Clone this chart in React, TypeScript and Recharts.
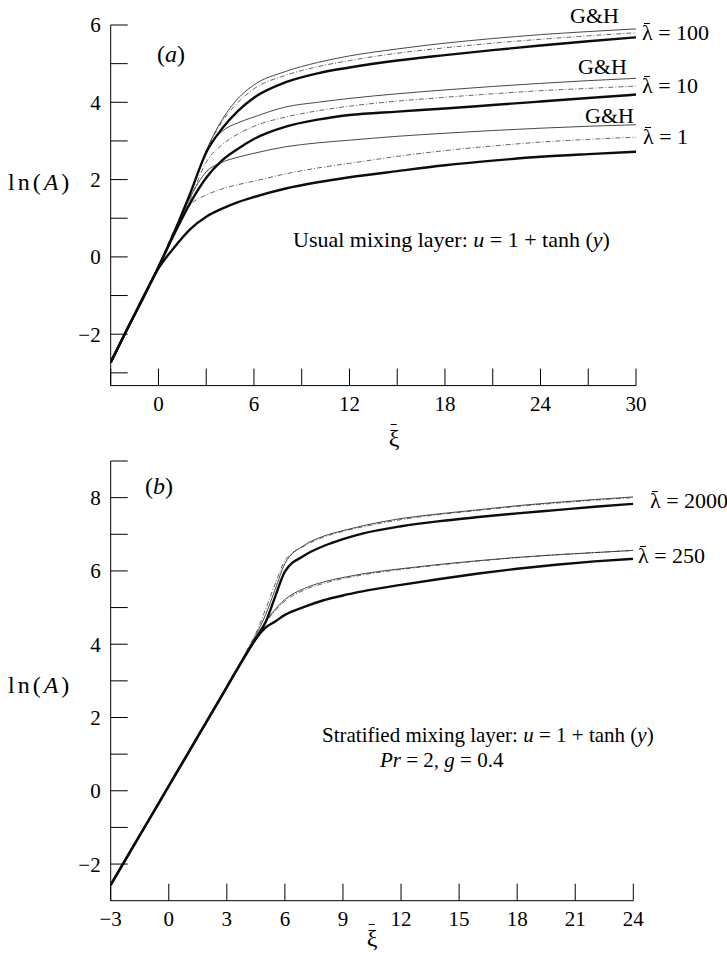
import React from "react";
import { LineChart, Line, XAxis, YAxis } from "recharts";

// ---- panel (a): usual mixing layer ----
const xiA = [-3, -2, -1, 0, 1, 2, 3, 4, 5, 6, 8, 10, 12, 15, 18, 21, 24, 27, 30];
const thickA100 = [-2.73, -1.9, -1.08, -0.26, 0.65, 1.65, 2.7, 3.32, 3.78, 4.12, 4.52, 4.75, 4.9, 5.08, 5.22, 5.35, 5.47, 5.58, 5.68];
const ghA100 = [-2.73, -1.9, -1.08, -0.26, 0.65, 1.65, 2.75, 3.55, 4.1, 4.45, 4.8, 5.03, 5.2, 5.38, 5.53, 5.65, 5.75, 5.83, 5.9];
const dotA100 = [-2.73, -1.9, -1.08, -0.26, 0.65, 1.65, 2.73, 3.5, 4.0, 4.35, 4.7, 4.92, 5.08, 5.27, 5.41, 5.53, 5.63, 5.72, 5.8];
const thickA10 = [-2.73, -1.9, -1.08, -0.26, 0.6, 1.4, 2.05, 2.5, 2.8, 3.05, 3.37, 3.55, 3.67, 3.76, 3.84, 3.93, 4.02, 4.11, 4.2];
const ghA10 = [-2.73, -1.9, -1.08, -0.26, 0.62, 1.62, 2.72, 3.25, 3.47, 3.62, 3.88, 4.0, 4.1, 4.22, 4.32, 4.41, 4.49, 4.56, 4.62];
const dotA10 = [-2.73, -1.9, -1.08, -0.26, 0.6, 1.5, 2.45, 2.9, 3.18, 3.38, 3.62, 3.78, 3.9, 4.03, 4.13, 4.22, 4.3, 4.36, 4.42];
const thickA1 = [-2.73, -1.9, -1.1, -0.3, 0.25, 0.72, 1.04, 1.25, 1.42, 1.55, 1.77, 1.93, 2.06, 2.22, 2.37, 2.49, 2.59, 2.66, 2.72];
const ghA1 = [-2.73, -1.9, -1.08, -0.26, 0.62, 1.55, 2.2, 2.45, 2.58, 2.68, 2.85, 2.95, 3.02, 3.12, 3.2, 3.27, 3.33, 3.38, 3.42];
const dotA1 = [-2.73, -1.9, -1.08, -0.26, 0.7, 1.35, 1.6, 1.76, 1.87, 1.96, 2.15, 2.3, 2.42, 2.6, 2.75, 2.87, 2.97, 3.04, 3.1];

const xTicksA = [-3, 0, 3, 6, 9, 12, 15, 18, 21, 24, 27, 30];
const xLabelsA = [0, 6, 12, 18, 24, 30];
const yTicksA = [-3, -2, -1, 0, 1, 2, 3, 4, 5, 6];
const yLabelsA = [-2, 0, 2, 4, 6];

// ---- panel (b): stratified mixing layer ----
const xiB = [-3, -2, -1, 0, 1, 2, 3, 4, 4.5, 5, 5.5, 6, 7, 8, 9, 10, 12, 14, 16, 18, 20, 22, 24];
const thickB2000 = [-2.57, -1.67, -0.77, 0.13, 1.03, 1.93, 2.83, 3.73, 4.15, 4.6, 5.3, 5.98, 6.42, 6.68, 6.87, 7.02, 7.22, 7.36, 7.47, 7.57, 7.66, 7.75, 7.83];
const ghB2000 = [-2.57, -1.67, -0.77, 0.13, 1.03, 1.93, 2.83, 3.78, 4.25, 4.8, 5.5, 6.2, 6.7, 6.95, 7.1, 7.23, 7.43, 7.56, 7.67, 7.78, 7.87, 7.95, 8.02];
const dotB2000 = [-2.57, -1.67, -0.77, 0.13, 1.03, 1.93, 2.85, 3.8, 4.3, 4.95, 5.65, 6.28, 6.68, 6.92, 7.08, 7.2, 7.4, 7.54, 7.65, 7.76, 7.85, 7.93, 8.0];
const thickB250 = [-2.57, -1.67, -0.77, 0.13, 1.03, 1.93, 2.83, 3.73, 4.15, 4.45, 4.62, 4.8, 5.02, 5.2, 5.33, 5.44, 5.62, 5.78, 5.93, 6.06, 6.17, 6.26, 6.33];
const ghB250 = [-2.57, -1.67, -0.77, 0.13, 1.03, 1.93, 2.83, 3.75, 4.2, 4.62, 4.95, 5.22, 5.52, 5.7, 5.82, 5.92, 6.06, 6.18, 6.28, 6.37, 6.44, 6.5, 6.56];
const dotB250 = [-2.57, -1.67, -0.77, 0.13, 1.03, 1.93, 2.83, 3.75, 4.18, 4.58, 4.92, 5.18, 5.48, 5.66, 5.79, 5.89, 6.04, 6.16, 6.27, 6.36, 6.44, 6.5, 6.56];

const xTicksB = [-3, 0, 3, 6, 9, 12, 15, 18, 21, 24];
const xLabelsB = [-3, 0, 3, 6, 9, 12, 15, 18, 21, 24];
const yTicksB = [-2, -1, 0, 1, 2, 3, 4, 5, 6, 7, 8, 9];
const yLabelsB = [-2, 0, 2, 4, 6, 8];

const dataA = xiA.map((xi, i) => ({
  xi,
  t100: thickA100[i], g100: ghA100[i], d100: dotA100[i],
  t10: thickA10[i], g10: ghA10[i], d10: dotA10[i],
  t1: thickA1[i], g1: ghA1[i], d1: dotA1[i],
}));

const dataB = xiB.map((xi, i) => ({
  xi,
  t2000: thickB2000[i], g2000: ghB2000[i], d2000: dotB2000[i],
  t250: thickB250[i], g250: ghB250[i], d250: dotB250[i],
}));

const serif = '"Liberation Serif", "DejaVu Serif", serif';
const tickStyle = { fontSize: 21, fontFamily: serif, fill: "#000" };
const minus = (v: number) => (v < 0 ? "\u2212" + Math.abs(v) : String(v));
const fmt = (labels: number[]) => (v: number) => (labels.includes(v) ? minus(v) : "");

const thick = { stroke: "#0d0d0d", strokeWidth: 2.4 };
const thin = { stroke: "#333", strokeWidth: 0.9 };
const dotted = { stroke: "#555", strokeWidth: 0.9, strokeDasharray: "5 2 1 2" };

function Txt({ x, y, size = 22, center = false, spacing = 0, children }: any) {
  return (
    <div style={{
      position: "absolute", left: x, top: y, whiteSpace: "nowrap", lineHeight: 1,
      fontSize: size, fontFamily: serif, color: "#000", letterSpacing: spacing,
      transform: center ? "translate(-50%, -50%)" : "translateY(-50%)",
    }}>{children}</div>
  );
}

// letter with a short bar above it
function Barred({ ch, top = "0.06em" }: { ch: string; top?: string }) {
  return (
    <span style={{ display: "inline-block", position: "relative" }}>
      {ch}
      <span style={{ position: "absolute", left: "0.1em", right: "0.1em", top,
                     borderTop: "1.3px solid #000" }} />
    </span>
  );
}

const Lam = () => <Barred ch={"\u03BB"} />;
const Xi = () => <Barred ch={"\u03BE"} top="-0.08em" />;

export default function App() {
  const series = (keys: string[]) => keys.map(k => {
    const style = k[0] === "t" ? thick : k[0] === "g" ? thin : dotted;
    return <Line key={k} dataKey={k} type="monotone" dot={false} activeDot={false}
                 isAnimationActive={false} {...style} />;
  });

  return (
    <div style={{ position: "absolute", left: 0, top: 0, width: 727, height: 974, background: "#fff" }}>
      <div style={{ position: "absolute", left: 0, top: 0 }}>
        <LineChart width={727} height={460} data={dataA}
                   margin={{ top: 25, right: 91, bottom: 34.4, left: 70.7 }}>
          <XAxis dataKey="xi" type="number" domain={[-3, 30]} ticks={xTicksA} interval={0}
                 allowDataOverflow height={40} tickSize={-17} tickMargin={27}
                 tickFormatter={fmt(xLabelsA)} tick={tickStyle}
                 axisLine={{ stroke: "#000" }} tickLine={{ stroke: "#000" }} />
          <YAxis type="number" domain={[-3.33, 6]} ticks={yTicksA} interval={0}
                 allowDataOverflow width={40} tickSize={-17} tickMargin={27}
                 tickFormatter={fmt(yLabelsA)} tick={tickStyle}
                 axisLine={{ stroke: "#000" }} tickLine={{ stroke: "#000" }} />
          {series(["d1", "g1", "t1", "d10", "g10", "t10", "d100", "g100", "t100"])}
        </LineChart>
      </div>

      <div style={{ position: "absolute", left: 0, top: 440 }}>
        <LineChart width={727} height={534} data={dataB}
                   margin={{ top: 21, right: 93.7, bottom: 33.3, left: 70.7 }}>
          <XAxis dataKey="xi" type="number" domain={[-3, 24]} ticks={xTicksB} interval={0}
                 allowDataOverflow height={40} tickSize={-17} tickMargin={27}
                 tickFormatter={fmt(xLabelsB)} tick={tickStyle}
                 axisLine={{ stroke: "#000" }} tickLine={{ stroke: "#000" }} />
          <YAxis type="number" domain={[-3, 9]} ticks={yTicksB} interval={0}
                 allowDataOverflow width={40} tickSize={-17} tickMargin={27}
                 tickFormatter={fmt(yLabelsB)} tick={tickStyle}
                 axisLine={{ stroke: "#000" }} tickLine={{ stroke: "#000" }} />
          {series(["d250", "g250", "t250", "d2000", "g2000", "t2000"])}
        </LineChart>
      </div>

      {/* panel (a) texts */}
      <Txt x={157} y={54} size={24}>(<i>a</i>)</Txt>
      <Txt x={8} y={182} size={24} spacing={3}>ln(<i>A</i>)</Txt>
      <Txt x={394} y={438} size={24} center><Xi /></Txt>
      <Txt x={570} y={16}>G&amp;H</Txt>
      <Txt x={578} y={67}>G&amp;H</Txt>
      <Txt x={585} y={116}>G&amp;H</Txt>
      <Txt x={642} y={33}><Lam /> = 100</Txt>
      <Txt x={642} y={86}><Lam /> = 10</Txt>
      <Txt x={643} y={137}><Lam /> = 1</Txt>
      <Txt x={293} y={240}>Usual mixing layer: <i>u</i> = 1 + tanh (<i>y</i>)</Txt>

      {/* panel (b) texts */}
      <Txt x={145} y={486} size={24}>(<i>b</i>)</Txt>
      <Txt x={8} y={685} size={24} spacing={3}>ln(<i>A</i>)</Txt>
      <Txt x={372} y={938} size={24} center><Xi /></Txt>
      <Txt x={650} y={501}><Lam /> = 2000</Txt>
      <Txt x={638} y={556}><Lam /> = 250</Txt>
      <Txt x={322} y={735} size={21}>Stratified mixing layer: <i>u</i> = 1 + tanh (<i>y</i>)</Txt>
      <Txt x={380} y={760} size={21}><i>Pr</i> = 2, <i>g</i> = 0.4</Txt>
    </div>
  );
}
